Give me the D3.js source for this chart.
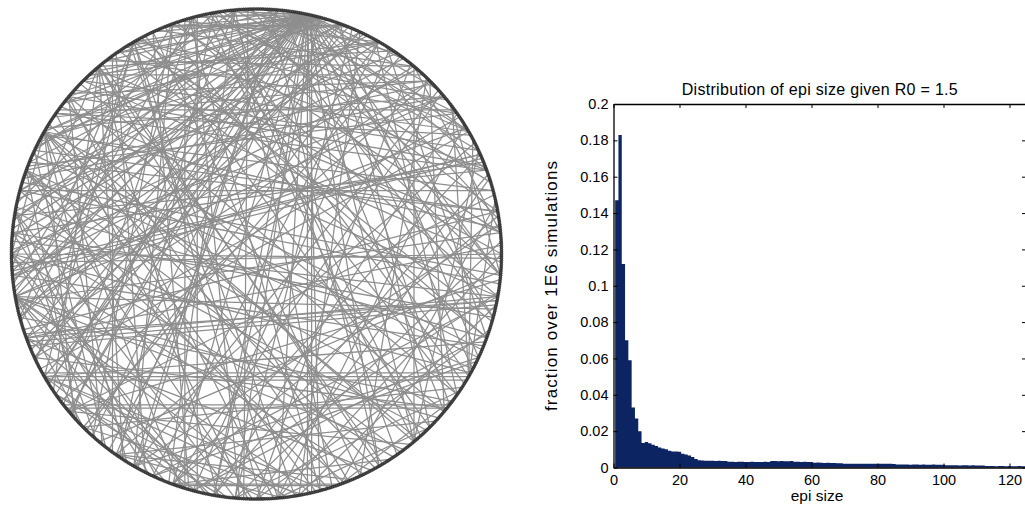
<!DOCTYPE html>
<html lang="en">
<head>
<meta charset="UTF-8">
<title>Network and epidemic size distribution</title>
<style>
  body { margin: 0; background: #fff; }
  svg text { font-family: "Liberation Sans", Arial, sans-serif; fill: #000; }
</style>
</head>
<body>
<svg id="chart" width="1025" height="506"></svg>
<script src="https://d3js.org/d3.v7.min.js"></script>
<script>
// ---- network (left): nodes spread round a ring, edge ends given in degrees clockwise from top
var nodeCount = 720;

var hubEdges = [
  [12,200],[12,215],[12,230],[12,245],[12,255],[12,262],[12,270],[12,278],[12,285],[12,292],
  [12,300],[12,308],[12,315],[12,322],[12,330],[12,338],[12,345],[12,352],[12,175],[12,165],
  [12,150],[12,140],[12,128],[12,118],[12,105],[12,95],[12,82],[12,70],[12,60],[12,48],
  [12,38],[12,185],[12,190],[12,222],[12,238],[12,250],[12,266],[12,296],[12,310],[12,328]
];

// parallel bundles that show as thick strokes
var bundleEdges = [
  [249,101],[250,100],[248,102],[251,101],
  [240,120],[239,121],[241,119],
  [231,129],[232,128],
  [266,66],[265,67],[267,66],
  [338,22],[339,21],
  [12,168],[13,167],
  [324,216],[346,194],[40,140],[343,197],[358,183],
  [43,317],[54,306],[75,285],[160,200],[161,199]
];

var otherEdges = [
  [3,150],[5,210],[7,95],[9,260],[15,190],[17,300],[20,135],[22,240],[25,170],[27,280],
  [30,205],[32,110],[34,320],[36,225],[39,180],[41,265],[44,155],[46,290],[49,200],[51,330],
  [53,120],[56,245],[58,175],[61,305],[63,215],[65,140],[68,275],[71,190],[73,350],[76,230],
  [78,160],[80,295],[83,210],[85,340],[88,250],[90,175],[92,315],[94,220],[97,285],[99,195],
  [103,260],[106,330],[108,180],[111,240],[113,300],[116,205],[119,270],[122,345],[124,185],[127,255],
  [130,310],[133,215],[136,280],[138,350],[141,230],[144,290],[147,200],[149,320],[152,250],[155,335],
  [157,215],[159,285],[162,355],[164,240],[166,300],[169,225],[171,330],[173,260],[176,310],[178,235],
  [181,290],[184,345],[187,250],[189,320],[192,270],[196,335],[198,300],[201,355],[204,280],[207,325],
  [209,5],[212,300],[214,350],[217,20],[219,310],[222,340],[224,30],[227,290],[229,355],[233,45],
  [236,320],[238,10],[242,60],[244,330],[247,25],[252,80],[254,345],[257,40],[259,85],[261,355],
  [264,30],[268,90],[271,50],[273,100],[276,20],[279,70],[281,110],[283,35],[287,95],[289,130],
  [291,55],[294,115],[297,15],[299,75],[302,140],[304,45],[307,100],[309,160],[312,65],[314,125],
  [317,30],[319,85],[321,150],[323,55],[326,110],[329,175],[331,70],[333,135],[336,40],[341,100],
  [344,165],[347,60],[349,120],[352,80],[354,145],[356,35],[359,105],
  [2,60],[6,130],[10,230],[16,325],[19,115],[23,185],[26,255],[29,125],[33,195],[37,270],
  [40,85],[45,130],[48,210],[52,95],[55,190],[59,260],[62,120],[66,200],[69,310],[72,180],
  [77,120],[81,200],[84,300],[87,185],[91,270],[96,230],[100,205],[102,170],[105,275],[109,195],
  [112,265],[115,210],[118,290],[123,225],[126,160],[129,245],[132,260],[135,175],[139,300],[143,260],
  [146,275],[151,300],[154,270],[158,320],[163,290],[167,260],[170,240],[174,215],[179,330],[182,305],
  [185,280],[188,235],[191,260],[194,240],[197,275],[202,260],[206,270],[210,340],[213,320],[218,295],
  [221,280],[225,260],[228,300],[232,345],[235,5],[240,330],[245,20],[250,45],[255,330],[260,50],
  [263,340],[267,320],[270,300],[274,25],[278,5],[282,350],[285,20],[288,50],[292,80],[295,355],
  [298,30],[301,50],[305,70],[308,30],[311,45],[315,60],[318,20],[322,40],[325,5],[328,90],
  [332,110],[335,15],[338,125],[342,30],[345,10],[348,140],[351,95],[355,65],[358,55]
];

// ---- histogram (right): fraction of 1E6 simulations per epidemic size 1..125
var epiFraction = [
  0.147, 0.183, 0.112, 0.070, 0.059, 0.033, 0.027, 0.020, 0.0135, 0.0140,
  0.0133, 0.0125, 0.0118, 0.0110, 0.0105, 0.0100, 0.0092, 0.0088, 0.0088, 0.0087,
  0.0075, 0.0072, 0.0066, 0.0058, 0.0047, 0.0040, 0.0038, 0.0037, 0.0037, 0.0037,
  0.0036, 0.0037, 0.0036, 0.0036, 0.0031, 0.0031, 0.0030, 0.0031, 0.0031, 0.0030,
  0.0030, 0.0031, 0.0030, 0.0030, 0.0030, 0.0031, 0.0030, 0.0036, 0.0036, 0.0035,
  0.0036, 0.0035, 0.0034, 0.0036, 0.0031, 0.0031, 0.0030, 0.0031, 0.0030, 0.0030,
  0.0026, 0.0027, 0.0026, 0.0025, 0.0026, 0.0025, 0.0025, 0.0024, 0.0023, 0.0021,
  0.0021, 0.0021, 0.0020, 0.0021, 0.0020, 0.0020, 0.0021, 0.0020, 0.0020, 0.0020,
  0.0021, 0.0020, 0.0020, 0.0020, 0.0019, 0.0016, 0.0016, 0.0016, 0.0016, 0.0015,
  0.0016, 0.0016, 0.0015, 0.0016, 0.0015, 0.0015, 0.0016, 0.0015, 0.0015, 0.0015,
  0.0012, 0.0012, 0.0012, 0.0012, 0.0011, 0.0012, 0.0012, 0.0011, 0.0012, 0.0011,
  0.0011, 0.0011, 0.0008, 0.0008, 0.0008, 0.0007, 0.0008, 0.0008, 0.0007, 0.0008,
  0.0007, 0.0007, 0.0008, 0.0007, 0.0007
];
var xTicks = [0, 20, 40, 60, 80, 100, 120];
var yTicks = [0, 0.02, 0.04, 0.06, 0.08, 0.1, 0.12, 0.14, 0.16, 0.18, 0.2];

var svg = d3.select("#chart");

// ================= network =================
var cx = 256.5, cy = 254, radius = 245;
var angle = d3.scaleLinear().domain([0, 360]).range([0, 2 * Math.PI]);
function px(deg) { return cx + radius * Math.sin(angle(deg)); }
function py(deg) { return cy - radius * Math.cos(angle(deg)); }

var allEdges = otherEdges.concat(hubEdges, bundleEdges);
var net = svg.append("g");
net.selectAll("line.edge")
  .data(allEdges)
  .enter().append("line")
    .attr("class", "edge")
    .attr("x1", d => px(d[0])).attr("y1", d => py(d[0]))
    .attr("x2", d => px(d[1])).attr("y2", d => py(d[1]))
    .attr("stroke", "#8e8e8e")
    .attr("stroke-width", 1.25);

var nodeDeg = d3.range(nodeCount).map(i => i * 360 / nodeCount);
net.selectAll("circle.node")
  .data(nodeDeg)
  .enter().append("circle")
    .attr("class", "node")
    .attr("cx", d => px(d)).attr("cy", d => py(d))
    .attr("r", 1.5)
    .attr("fill", "#4a4a4a")
    .attr("stroke", "#1e1e1e")
    .attr("stroke-width", 0.5);

// ================= histogram =================
var x = d3.scaleLinear().domain([0, 125]).range([613.5, 1026]);
var y = d3.scaleLinear().domain([0, 0.2]).range([467.5, 104]);
var hist = svg.append("g");

// one step outline for all bars so adjacent bars have no seams
var steps = [];
epiFraction.forEach(function(v, i) {
  steps.push([i + 0.5, v], [i + 1.5, v]);
});
var barArea = d3.area()
  .x(d => x(d[0]))
  .y0(y(0))
  .y1(d => y(d[1]));
hist.append("path")
  .datum(steps)
  .attr("d", barArea)
  .attr("fill", "#0c2461");

var tickLen = 4;
var bottomAxis = hist.append("g").attr("transform", "translate(0," + y(0) + ")")
  .call(d3.axisBottom(x).tickValues(xTicks).tickSizeInner(-tickLen).tickSizeOuter(0).tickPadding(7));
var topAxis = hist.append("g").attr("transform", "translate(0," + y(0.2) + ")")
  .call(d3.axisTop(x).tickValues(xTicks).tickSizeInner(-tickLen).tickSizeOuter(0).tickFormat(""));
var leftAxis = hist.append("g").attr("transform", "translate(" + x(0) + ",0)")
  .call(d3.axisLeft(y).tickValues(yTicks).tickSizeInner(-tickLen).tickSizeOuter(0).tickPadding(5)
    .tickFormat(d => d3.format("~g")(d)));
var rightAxis = hist.append("g").attr("transform", "translate(" + x(125) + ",0)")
  .call(d3.axisRight(y).tickValues(yTicks).tickSizeInner(-tickLen).tickSizeOuter(0).tickFormat(""));

[bottomAxis, topAxis, leftAxis, rightAxis].forEach(function(a) {
  a.select(".domain").attr("stroke", "#000").attr("stroke-width", 1.3);
  a.selectAll(".tick line").attr("stroke", "#000");
  a.selectAll("text").attr("font-size", 14.5).attr("font-family", "Liberation Sans, Arial, sans-serif").attr("fill", "#000");
});

hist.append("text")
  .attr("x", (x(0) + x(125)) / 2)
  .attr("y", 95)
  .attr("text-anchor", "middle")
  .attr("font-size", 16)
  .attr("textLength", 276)
  .attr("lengthAdjust", "spacing")
  .text("Distribution of epi size given R0 = 1.5");

hist.append("text")
  .attr("x", 817)
  .attr("y", 501)
  .attr("text-anchor", "middle")
  .attr("font-size", 15.5)
  .text("epi size");

hist.append("text")
  .attr("transform", "translate(557," + 286 + ") rotate(-90)")
  .attr("text-anchor", "middle")
  .attr("font-size", 17)
  .attr("textLength", 250)
  .attr("lengthAdjust", "spacing")
  .text("fraction over 1E6 simulations");
</script>
</body>
</html>
